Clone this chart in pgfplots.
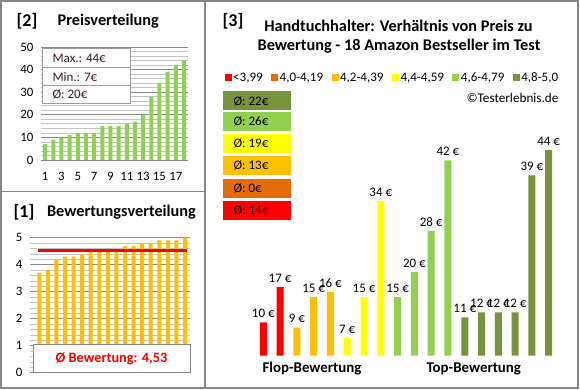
\documentclass[border=0pt]{standalone}
\usepackage{pgfplots}
\pgfplotsset{compat=1.18}
\usepackage{fontspec}
\setmainfont{Carlito}
\definecolor{cRed}{HTML}{FF0000}
\definecolor{cOrange}{HTML}{E46C0A}
\definecolor{cGold}{HTML}{FFC000}
\definecolor{cYellow}{HTML}{FFFF00}
\definecolor{cLGreen}{HTML}{92D050}
\definecolor{cDGreen}{HTML}{77933C}
\definecolor{cFrame}{HTML}{868686}
\definecolor{cMajor}{HTML}{8C8C8C}
\definecolor{cMinor}{HTML}{C4C4C4}
\definecolor{cText}{HTML}{3C1E1E}
\begin{document}
\begin{tikzpicture}[x=1pt,y=1pt]
\useasboundingbox (0,0) rectangle (580,390);
\fill[white] (0,0) rectangle (580,390);
\draw[cFrame, line width=1.2pt] (1,2) rectangle (578,389);
\draw[cFrame, line width=1.2pt] (205,2) -- (205,389);
\draw[cFrame, line width=1.2pt] (1,198.3) -- (205,198.3);

% ---------- [2] Preisverteilung ----------
\node[font=\fontsize{18}{20}\selectfont\bfseries] at (27,368.7) {[2]};
\node[font=\fontsize{16.3}{18}\selectfont\bfseries] at (108.3,368.7) {Preisverteilung};
\begin{axis}[at={(41pt,230pt)}, anchor=south west, scale only axis,
  width=147pt, height=113pt,
  xmin=0.5, xmax=18.5, ymin=0, ymax=50,
  xtick={1,3,...,17}, ytick={0,10,...,50}, minor y tick num=4,
  ymajorgrids, yminorgrids,
  major grid style={cMajor, line width=0.7pt},
  minor grid style={cMinor, line width=0.7pt},
  axis x line*=bottom, axis y line*=left,
  axis line style={-},
  x axis line style={cFrame, line width=0.8pt},
  y axis line style={draw=none},
  tick style={draw=none},
  tick label style={font=\fontsize{12.8}{14}\selectfont},
  /pgf/number format/assume math mode=true,
  xticklabel style={yshift=-9pt},
  yticklabel style={xshift=-4pt},
  clip=false]
\addplot[ybar, bar shift=0pt, bar width=4pt, fill=cLGreen, draw=none]
  coordinates {(1,7)(2,9)(3,10)(4,11)(5,12)(6,12)(7,12)(8,15)(9,15)(10,15)
               (11,16)(12,17)(13,20)(14,28)(15,34)(16,39)(17,42)(18,44)};
\end{axis}
\draw[cMinor!80!black, fill=white, line width=0.8pt] (42,287) rectangle (130,342);
\draw[cMinor!80!black, line width=0.8pt] (42,322.3) -- (130,322.3);
\draw[cMinor!80!black, line width=0.8pt] (42,304.3) -- (130,304.3);
\node[anchor=west, font=\fontsize{13}{15}\selectfont, text=cText] at (49,332) {Max.: 44€};
\node[anchor=west, font=\fontsize{13}{15}\selectfont, text=cText] at (49,313.3) {Min.: 7€};
\node[anchor=west, font=\fontsize{13}{15}\selectfont, text=cText] at (49,295.7) {Ø: 20€};

% ---------- [1] Bewertungsverteilung ----------
\node[font=\fontsize{18}{20}\selectfont\bfseries] at (24,177.5) {[1]};
\node[font=\fontsize{16.3}{18}\selectfont\bfseries] at (121.5,177.5) {Bewertungsverteilung};
\begin{axis}[at={(30pt,17.3pt)}, anchor=south west, scale only axis,
  width=160pt, height=135pt,
  xmin=-0.085, xmax=18.58, ymin=0, ymax=5,
  xtick=\empty, ytick={0,1,...,5}, minor y tick num=4,
  ymajorgrids, yminorgrids,
  major grid style={cMajor, line width=0.7pt},
  minor grid style={cMinor, line width=0.7pt},
  axis x line*=bottom, axis y line*=left,
  axis line style={-},
  x axis line style={cFrame, line width=0.8pt},
  y axis line style={draw=none},
  tick style={draw=none},
  tick label style={font=\fontsize{12.8}{14}\selectfont},
  /pgf/number format/assume math mode=true,
  yticklabel style={xshift=-4pt},
  clip=false]
\addplot[ybar, bar shift=0pt, bar width=4pt, fill=cGold, draw=none]
  coordinates {(1,3.7)(2,3.8)(3,4.2)(4,4.3)(5,4.3)(6,4.4)(7,4.5)(8,4.5)(9,4.5)(10,4.5)
               (11,4.7)(12,4.7)(13,4.8)(14,4.8)(15,4.9)(16,4.9)(17,4.9)(18,5.0)};
\addplot[cRed, line width=3pt] coordinates {(0.85,4.53)(18.2,4.53)};
\end{axis}
\draw[cFrame, fill=white, line width=0.8pt] (33.5,17.3) rectangle (190,46);
\node[font=\fontsize{14.3}{16}\selectfont\bfseries, text=cRed] at (111.5,31.5) {Ø Bewertung: 4,53};

% ---------- [3] main chart ----------
\node[font=\fontsize{18}{20}\selectfont\bfseries] at (233,368.5) {[3]};
\node[font=\fontsize{16.3}{18}\selectfont\bfseries] at (398.5,364.3) {Handtuchhalter: Verhältnis von Preis zu};
\node[font=\fontsize{16.3}{18}\selectfont\bfseries] at (399,344) {Bewertung - 18 Amazon Bestseller im Test};
\node[anchor=east, font=\fontsize{13.2}{15}\selectfont] at (562,291.7) {©Testerlebnis.de};

\foreach \yy/\cc/\vv in {289/cDGreen/22, 268.3/cLGreen/26, 246.7/cYellow/19, 224.5/cGold/13, 201.7/cOrange/0, 179.7/cRed/14}{
  \fill[\cc] (223,\yy-9.5) rectangle (291,\yy+9.5);
  \node[anchor=west, font=\fontsize{13}{15}\selectfont] at (230,\yy) {Ø: \vv€};
}

\begin{axis}[at={(246.5pt,34.3pt)}, anchor=south west, scale only axis,
  width=319pt, height=236pt,
  xmin=0, xmax=19, ymin=3.45, ymax=50,
  hide axis, clip=false,
  legend columns=6,
  legend style={at={(axis description cs:-0.069,1.177)}, anchor=west, draw=none, fill=none,
    font=\fontsize{13}{15}\selectfont, inner sep=0pt,
    /tikz/every even column/.append style={column sep=7pt},
    nodes={inner sep=1.5pt}},
  legend image code/.code={\fill[#1, draw=none] (0pt,-3.5pt) rectangle (7pt,3.5pt);},
  nodes near coords={\pgfmathprintnumber[assume math mode=true]{\pgfplotspointmeta}~€},
  every node near coord/.append style={font=\fontsize{13}{15}\selectfont, text=black, yshift=1pt},
  ]
\addlegendimage{fill=cRed}\addlegendentry{<3,99}
\addlegendimage{fill=cOrange}\addlegendentry{4,0-4,19}
\addlegendimage{fill=cGold}\addlegendentry{4,2-4,39}
\addlegendimage{fill=cYellow}\addlegendentry{4,4-4,59}
\addlegendimage{fill=cLGreen}\addlegendentry{4,6-4,79}
\addlegendimage{fill=cDGreen}\addlegendentry{4,8-5,0}
\addplot[forget plot, ybar, bar shift=0pt, bar width=7pt, fill=cRed, draw=none]
  coordinates {(1,10)(2,17)};
\addplot[forget plot, ybar, bar shift=0pt, bar width=7pt, fill=cGold, draw=none]
  coordinates {(3,9)(4,15)(5,16)};
\addplot[forget plot, ybar, bar shift=0pt, bar width=7pt, fill=cYellow, draw=none]
  coordinates {(6,7)(7,15)(8,34)};
\addplot[forget plot, ybar, bar shift=0pt, bar width=7pt, fill=cLGreen, draw=none]
  coordinates {(9,15)(10,20)(11,28)(12,42)};
\addplot[forget plot, ybar, bar shift=0pt, bar width=7pt, fill=cDGreen, draw=none]
  coordinates {(13,11)(14,12)(15,12)(16,12)(17,39)(18,44)};
\end{axis}
\node[font=\fontsize{14.9}{17}\selectfont\bfseries] at (312,21) {Flop-Bewertung};
\node[font=\fontsize{14.9}{17}\selectfont\bfseries] at (473.8,21) {Top-Bewertung};
\end{tikzpicture}
\end{document}
